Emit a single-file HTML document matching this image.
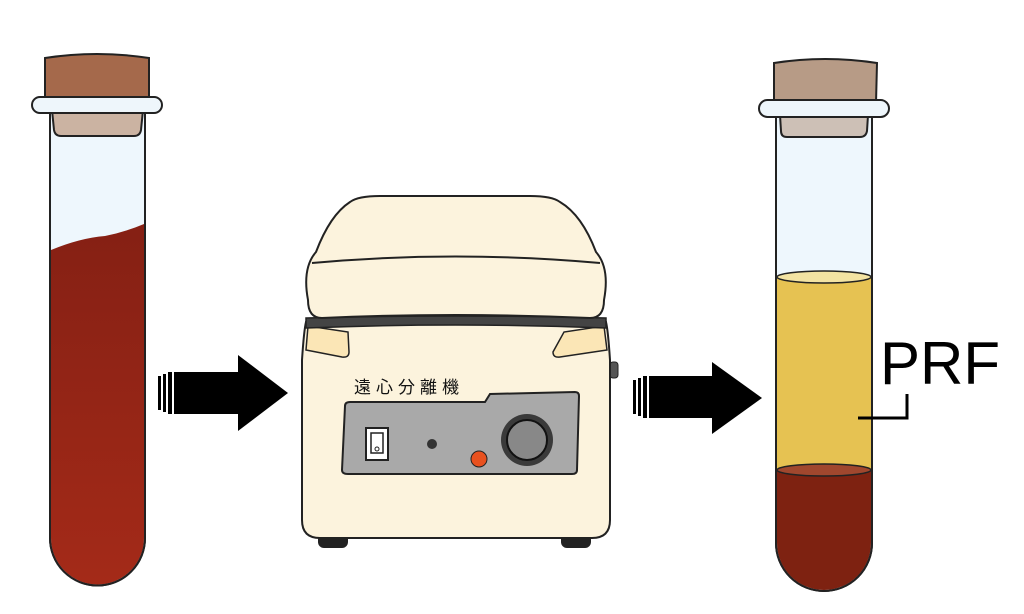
<!DOCTYPE html>
<html><head><meta charset="utf-8"><style>
html,body{margin:0;padding:0;background:#fff;width:1024px;height:614px;overflow:hidden}
</style></head><body>
<svg width="1024" height="614" viewBox="0 0 1024 614" xmlns="http://www.w3.org/2000/svg">
<defs>
<linearGradient id="blood" x1="0" y1="0" x2="0" y2="1"><stop offset="0" stop-color="#852014"/><stop offset="1" stop-color="#a42a18"/></linearGradient>
</defs>
<!-- Left tube -->
<path d="M50 110 L50 538 A47.5 47.5 0 0 0 145 538 L145 110 Z" fill="#eef7fd" stroke="#222" stroke-width="2"/>
<path d="M51 250 Q80 238 105 236 Q125 232 144 224 L144 538 A46.5 46.5 0 0 1 51 538 Z" fill="url(#blood)"/>
<path d="M50 110 L50 538 A47.5 47.5 0 0 0 145 538 L145 110" fill="none" stroke="#222" stroke-width="2"/>
<path d="M52 110 L143 110 L141 130 Q140 136 134 136 L61 136 Q55 136 54 130 Z" fill="#cbb3a2" stroke="#222" stroke-width="2"/>
<path d="M45 58 Q97 50 149 58 L149 100 L45 100 Z" fill="#a5694b" stroke="#222" stroke-width="2"/>
<rect x="32" y="97" width="130" height="16" rx="8" fill="#eef6fb" stroke="#222" stroke-width="2"/>
<!-- Arrow 1 -->
<g fill="#000">
<rect x="158" y="376" width="3" height="34"/><rect x="163" y="374" width="3" height="38"/><rect x="168" y="372" width="4" height="42"/><rect x="174" y="372" width="6" height="42"/>
<rect x="180" y="372" width="60" height="42"/>
<polygon points="238,355 288,393 238,431"/>
</g>
<!-- Arrow 2 -->
<g fill="#000">
<rect x="633" y="380" width="3" height="34"/><rect x="638" y="378" width="3" height="38"/><rect x="643" y="376" width="4" height="42"/><rect x="649" y="376" width="6" height="42"/>
<rect x="655" y="376" width="60" height="42"/>
<polygon points="712,362 762,398 712,434"/>
</g>
<!-- Centrifuge -->
<rect x="318" y="528" width="30" height="20" rx="6" fill="#222"/>
<rect x="561" y="528" width="30" height="20" rx="6" fill="#222"/>
<rect x="610" y="362" width="8" height="16" rx="3" fill="#555" stroke="#222"/>
<path d="M306 322 Q304 330 302 360 L302 520 Q302 538 320 538 L592 538 Q610 538 610 520 L610 360 Q608 330 606 322 Z" fill="#fcf3dd" stroke="#222" stroke-width="2"/>
<path d="M308 326 L348 332 L349 352 Q349 358 342 357 L306 350 Z" fill="#fbe6b6" stroke="#222" stroke-width="1.5"/>
<path d="M604 326 L564 332 L553 352 Q553 358 560 357 L607 350 Z" fill="#fbe6b6" stroke="#222" stroke-width="1.5"/>
<path d="M306 318 Q455 314 606 318 L606 328 Q455 322 306 328 Z" fill="#444" stroke="#222" stroke-width="1.5"/>
<path d="M308 300 Q302 268 316 252 Q330 215 350 202 Q358 196 380 196 L530 196 Q552 196 560 202 Q582 215 596 252 Q610 268 604 300 Q604 318 590 318 Q455 312 322 318 Q308 318 308 300 Z" fill="#fcf3dd" stroke="#222" stroke-width="2"/>
<path d="M312 263 Q455 250 600 263" fill="none" stroke="#222" stroke-width="2"/>
<path d="M345 406 Q345 402 350 402 L485 402 L490 394 L575 392 Q579 392 579 396 L577 470 Q577 474 572 474 L348 474 Q342 474 342 470 Z" fill="#a9a9a9" stroke="#222" stroke-width="2"/>
<text x="354" y="393" font-family="Liberation Sans, Noto Sans CJK JP, sans-serif" font-size="17" letter-spacing="5" fill="#111">遠心分離機</text>
<rect x="366" y="428" width="22" height="32" fill="#fff" stroke="#222" stroke-width="2"/>
<rect x="371" y="433" width="12" height="20" fill="none" stroke="#222" stroke-width="1.5"/>
<circle cx="377" cy="449" r="2" fill="none" stroke="#222"/>
<circle cx="432" cy="444" r="5" fill="#333"/>
<circle cx="479" cy="459" r="8" fill="#e8511f" stroke="#222"/>
<circle cx="527" cy="440" r="26" fill="#3a3a3a"/>
<circle cx="527" cy="440" r="20" fill="#888" stroke="#111" stroke-width="2"/>
<!-- Right tube -->
<path d="M776 115 L776 543 A48 48 0 0 0 872 543 L872 115 Z" fill="#eef7fd" stroke="#222" stroke-width="2"/>
<rect x="777" y="276" width="94" height="193" fill="#e6c252"/>
<ellipse cx="824" cy="277" rx="47" ry="6" fill="#f3e3a2" stroke="#222" stroke-width="1.5"/>
<path d="M777 469 L871 469 L871 543 A47 47 0 0 1 777 543 Z" fill="#7e2211"/>
<ellipse cx="824" cy="470" rx="47" ry="6" fill="#a0472e" stroke="#222" stroke-width="1.5"/>
<path d="M776 115 L776 543 A48 48 0 0 0 872 543 L872 115" fill="none" stroke="#222" stroke-width="2"/>
<path d="M780 115 L868 115 L867 131 Q866 137 860 137 L787 137 Q781 137 781 131 Z" fill="#cdc0b6" stroke="#222" stroke-width="2"/>
<path d="M774 63 Q825 55 877 63 L876 103 L774 103 Z" fill="#b79b86" stroke="#222" stroke-width="2"/>
<rect x="759" y="100" width="130" height="17" rx="8.5" fill="#eef6fb" stroke="#222" stroke-width="2"/>
<text x="880" y="384" font-family="Liberation Sans, sans-serif" font-size="60" fill="#000">PRF</text>
<path d="M858 418 L907 418 L907 394" fill="none" stroke="#000" stroke-width="3"/>
</svg>
</body></html>
